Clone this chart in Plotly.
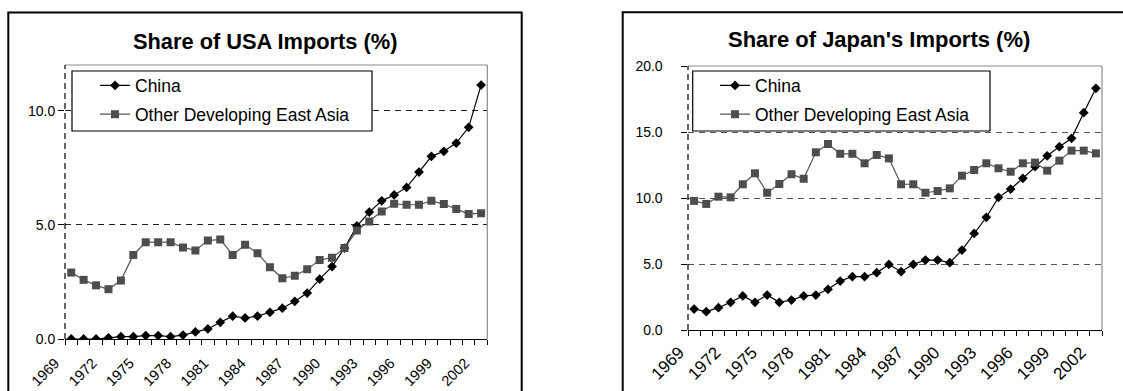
import plotly.graph_objects as go

years = list(range(1969, 2003))
tick_years = list(range(1969, 2003, 3))

usa_china = [0.0, 0.0, 0.0, 0.05, 0.1, 0.1, 0.15, 0.15, 0.1, 0.17, 0.31, 0.44, 0.73, 1.0, 0.92,
             1.0, 1.17, 1.35, 1.65, 2.01, 2.62, 3.17, 3.98, 4.95, 5.56, 6.05, 6.31, 6.64, 7.31,
             8.0, 8.22, 8.58, 9.27, 11.12]
usa_other = [2.91, 2.59, 2.35, 2.18, 2.56, 3.68, 4.24, 4.24, 4.24, 4.01, 3.88, 4.31, 4.36, 3.68,
             4.13, 3.76, 3.14, 2.66, 2.77, 3.05, 3.46, 3.56, 3.98, 4.75, 5.15, 5.58, 5.92, 5.88,
             5.88, 6.05, 5.91, 5.69, 5.47, 5.51]
jpn_china = [1.59, 1.39, 1.69, 2.1, 2.58, 2.1, 2.65, 2.1, 2.27, 2.58, 2.65, 3.08, 3.71, 4.04,
             4.04, 4.34, 4.97, 4.42, 4.97, 5.3, 5.3, 5.1, 6.06, 7.32, 8.54, 10.05, 10.68, 11.49,
             12.37, 13.2, 13.89, 14.52, 16.46, 18.31]
jpn_other = [9.78, 9.55, 10.1, 10.05, 11.04, 11.87, 10.4, 11.06, 11.8, 11.46, 13.46, 14.09,
             13.35, 13.35, 12.63, 13.26, 13.0, 11.04, 11.04, 10.4, 10.53, 10.73, 11.69, 12.12,
             12.63, 12.25, 11.99, 12.63, 12.68, 12.07, 12.83, 13.59, 13.59, 13.38]

series_names = ["China", "Other Developing East Asia"]
titles = ["Share of USA Imports (%)", "Share of Japan's Imports (%)"]

W, H = 1123, 391
FONT = "Liberation Sans, Arial, sans-serif"
NBSP = "\u00a0"

def px_x(x):
    return x / W

def px_y(y):
    return (H - y) / H

fig = go.Figure()

panels = [
    dict(xa="x", ya="y", xd=(65, 487.3), yd=(65, 339), yr=[0, 12], ydt=5,
         data=(usa_china, usa_other), legend="legend", grid="#222222",
         leg_box=(72, 71, 372, 131), leg_x=95, xfs=14.5, xshift=-16, xstand=9, ysuf=""),
    dict(xa="x2", ya="y2", xd=(688, 1102), yd=(66, 330), yr=[0, 20], ydt=5,
         data=(jpn_china, jpn_other), legend="legend2", grid="#555555",
         leg_box=(692.7, 71, 990, 131), leg_x=715, xfs=17, xshift=-15, xstand=5, ysuf=NBSP * 4),
]

shapes = []
annotations = []
for i, p in enumerate(panels):
    china, other = p["data"]
    fig.add_trace(go.Scatter(
        x=years, y=china, name=series_names[0], mode="lines+markers",
        line=dict(color="black", width=1.2),
        marker=dict(symbol="diamond", size=7.5, color="black"),
        xaxis=p["xa"], yaxis=p["ya"], legend=p["legend"], legendgroup=f"c{i}"))
    fig.add_trace(go.Scatter(
        x=years, y=other, name=series_names[1], mode="lines+markers",
        line=dict(color="#555555", width=1.2),
        marker=dict(symbol="square", size=8, color="#4d4d4d"),
        xaxis=p["xa"], yaxis=p["ya"], legend=p["legend"], legendgroup=f"o{i}"))

    axn = "" if i == 0 else "2"
    fig.update_layout(**{
        f"xaxis{axn}": dict(
            domain=[px_x(p["xd"][0]), px_x(p["xd"][1])],
            anchor=p["ya"], range=[1968.5, 2002.5], automargin=False,
            tickmode="array", tickvals=tick_years, ticktext=[str(t) for t in tick_years],
            ticks="", tickangle=-45, showgrid=False, zeroline=False,
            showline=True, linecolor="black", linewidth=1,
            ticklabelshift=p["xshift"], ticklabelstandoff=p["xstand"],
            tickfont=dict(family=FONT, size=p["xfs"], color="black"),
            minor=dict(tickmode="linear", tick0=1968.5, dtick=1, ticks="outside",
                       ticklen=5, tickcolor="black", tickwidth=1, showgrid=False),
        ),
        f"yaxis{axn}": dict(
            domain=[px_y(p["yd"][1]), px_y(p["yd"][0])],
            anchor=p["xa"], range=p["yr"], dtick=p["ydt"], tick0=0, automargin=False,
            tickformat=".1f", ticksuffix=p["ysuf"], ticks="outside", ticklen=6,
            tickcolor="black",
            showgrid=True, gridcolor=p["grid"], griddash="6px,5px", gridwidth=1,
            zeroline=False, showline=False,
            tickfont=dict(family=FONT, size=14, color="black"),
        ),
    })
    xd = f"{p['xa']} domain"
    yd = f"{p['ya']} domain"
    shapes.append(dict(type="line", xref=xd, yref=yd, x0=0, x1=1, y0=1, y1=1,
                       line=dict(color="#8c8c8c", width=1.2), layer="above"))
    shapes.append(dict(type="line", xref=xd, yref=yd, x0=1, x1=1, y0=0, y1=1,
                       line=dict(color="#8c8c8c", width=1.2), layer="above"))
    shapes.append(dict(type="line", xref=xd, yref=yd, x0=0, x1=0, y0=0, y1=1,
                       line=dict(color="black", width=1.2, dash="6px,4px"), layer="above"))
    bx0, by0, bx1, by1 = p["leg_box"]
    shapes.append(dict(type="rect", xref="paper", yref="paper",
                       x0=px_x(bx0), x1=px_x(bx1), y0=px_y(by1), y1=px_y(by0),
                       line=dict(color="black", width=1.2), fillcolor="white", layer="above"))
    fig.update_layout(**{
        p["legend"]: dict(
            x=px_x(p["leg_x"]), y=px_y(by0 - 3.5), xanchor="left", yanchor="top",
            bgcolor="rgba(0,0,0,0)", borderwidth=0,
            font=dict(family=FONT, size=17.5, color="black"),
            tracegroupgap=3, itemclick=False,
        )
    })

shapes.append(dict(type="rect", xref="paper", yref="paper",
                   x0=px_x(8.3), x1=px_x(521.7), y0=-0.2, y1=px_y(12.5),
                   line=dict(color="black", width=2), fillcolor="rgba(0,0,0,0)", layer="below"))
shapes.append(dict(type="rect", xref="paper", yref="paper",
                   x0=px_x(622.7), x1=px_x(1130), y0=-0.2, y1=px_y(12.2),
                   line=dict(color="black", width=2), fillcolor="rgba(0,0,0,0)", layer="below"))

annotations.append(dict(text="<b>" + titles[0] + "</b>", x=px_x(264.5), y=px_y(41.5),
                        xref="paper", yref="paper", showarrow=False, xanchor="center",
                        yanchor="middle", font=dict(family=FONT, size=21.8, color="black")))
annotations.append(dict(text="<b>" + titles[1] + "</b>", x=px_x(879), y=px_y(40),
                        xref="paper", yref="paper", showarrow=False, xanchor="center",
                        yanchor="middle", font=dict(family=FONT, size=22, color="black")))

fig.update_layout(
    width=W, height=H, margin=dict(l=0, r=0, t=0, b=0, autoexpand=False),
    paper_bgcolor="white", plot_bgcolor="white",
    shapes=shapes, annotations=annotations, showlegend=True,
)

fig.write_html("out.html")
